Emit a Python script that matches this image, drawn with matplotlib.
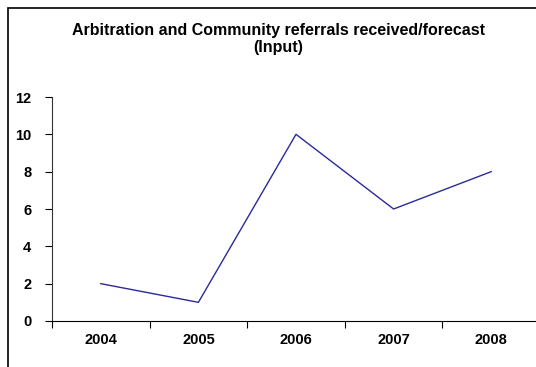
import matplotlib.pyplot as plt
from matplotlib.patches import Rectangle

years = ['2004', '2005', '2006', '2007', '2008']
referrals = [2, 1, 10, 6, 8]
yticks = [0, 2, 4, 6, 8, 10, 12]

plt.rcParams['font.family'] = ['Liberation Sans', 'DejaVu Sans']

fig = plt.figure(figsize=(5.36, 3.67), dpi=100)
fig.patches.append(Rectangle((8/536, -0.1), 1.2, 1 - 8/367 + 0.1, transform=fig.transFigure,
                             fill=False, edgecolor='black', lw=1.2))

ax = fig.add_axes([52/536, 1 - 321/367, 488/536, (321 - 97)/367])
x = range(len(years))
ax.plot(x, referrals, color='#2a2a9c', lw=1)

ax.set_xlim(-0.5, len(years) - 0.5)
ax.set_ylim(0, 12)
ax.set_yticks(yticks)
ax.set_yticklabels([str(v) for v in yticks], fontweight='bold', fontsize=10.5)
ax.set_xticks([i + 0.5 for i in range(-1, len(years))])
ax.set_xticklabels([])
ax.set_xticks(list(x), minor=True)
ax.set_xticklabels(years, minor=True, fontweight='bold', fontsize=10.5)
ax.tick_params(axis='x', which='minor', length=0, pad=9)
ax.tick_params(axis='x', which='major', length=5, direction='out')
ax.tick_params(axis='y', length=5, direction='out', pad=10)

for s in ['top', 'right']:
    ax.spines[s].set_visible(False)
ax.spines['left'].set_color('#333333')

fig.text(0.519, 1 - 39/367, 'Arbitration and Community referrals received/forecast\n(Input)',
         ha='center', va='center', fontsize=11.5, fontweight='bold', linespacing=1.2)

fig.savefig('out.png', dpi=100)
